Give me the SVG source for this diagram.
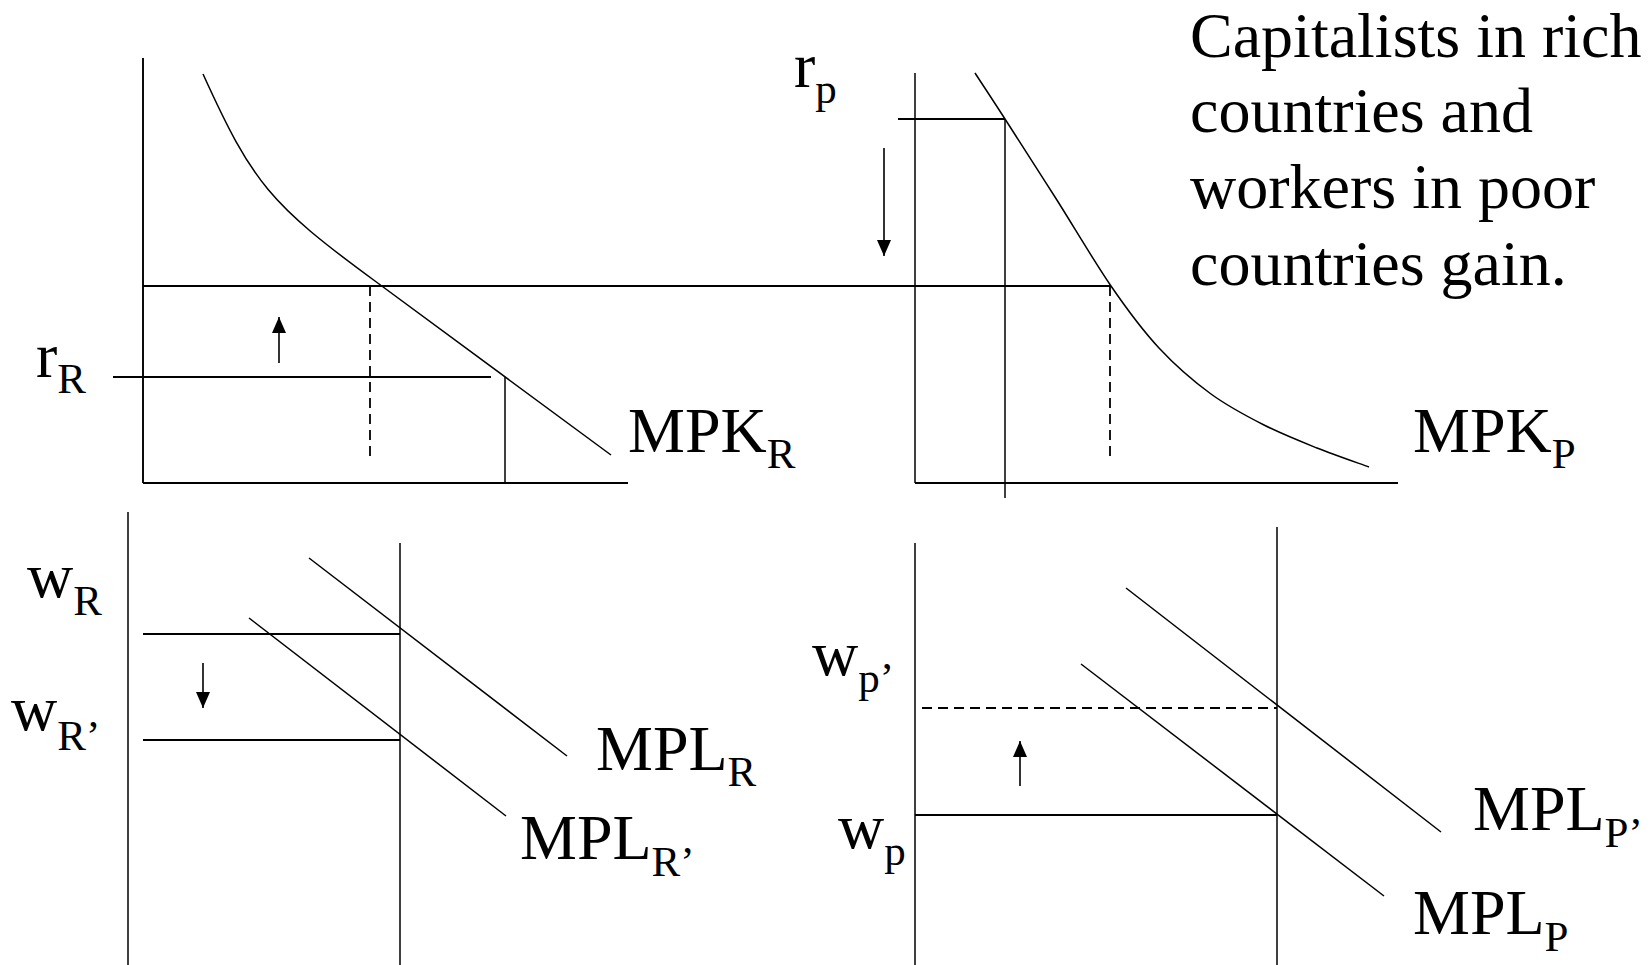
<svg xmlns="http://www.w3.org/2000/svg" width="1652" height="965" viewBox="0 0 1652 965">
<style>
.ln{stroke:#000;stroke-width:1.9;fill:none}
.thin{stroke:#000;stroke-width:1.5;fill:none}
.dash{stroke:#000;stroke-width:1.8;fill:none;stroke-dasharray:10 6}
.arr{stroke:#000;stroke-width:1.6;fill:none;marker-end:url(#ah)}
text{font-family:"Liberation Serif","Times New Roman",serif;fill:#000}
.lbl{font-size:64px}
.sub{font-size:43px}
.para{font-size:64px}
</style>
<defs>
<marker id="ah" markerUnits="userSpaceOnUse" markerWidth="17" markerHeight="14" refX="16" refY="7" orient="auto">
<path d="M0,0 L16,7 L0,14 z" fill="#000"/>
</marker>
</defs>
<rect width="1652" height="965" fill="#fff"/>

<g id="connectors">
<!-- top-left panel -->
<line class="ln" x1="143" y1="58" x2="143" y2="483"/>
<line class="ln" x1="143" y1="483" x2="628" y2="483"/>
<line class="ln" x1="143" y1="286" x2="1110" y2="286"/>
<line class="dash" x1="370" y1="286" x2="370" y2="461"/>
<line class="ln" x1="113" y1="377" x2="491" y2="377"/>
<line class="thin" x1="505" y1="377" x2="505" y2="483"/>
<path class="thin" d="M203,74 C252.6,183.2 269.8,203.9 375,281 L611,455"/>
<line class="arr" x1="279" y1="363" x2="279" y2="317"/>
<!-- top-right panel -->
<line class="thin" x1="915" y1="73" x2="915" y2="483"/>
<line class="ln" x1="915" y1="483" x2="1398" y2="483"/>
<line class="thin" x1="1005" y1="119" x2="1005" y2="498"/>
<line class="ln" x1="898" y1="119" x2="1005" y2="119"/>
<line class="dash" x1="1110" y1="286" x2="1110" y2="461"/>
<path class="thin" d="M975,73 C980,80.7 991.7,98.3 1005,119 C1018.3,139.7 1037.3,169.2 1055,197 C1072.7,224.8 1093.7,260.8 1111,286 C1128.3,311.2 1142.3,330 1159,348 C1175.7,366 1193.5,381.2 1211,394 C1228.5,406.8 1246.3,416 1264,425 C1281.7,434 1299.5,441 1317,448 C1334.5,455 1360.3,463.8 1369,467"/>
<line class="arr" x1="884" y1="148" x2="884" y2="256"/>
<!-- bottom-left panel -->
<line class="thin" x1="128" y1="512" x2="128" y2="965"/>
<line class="thin" x1="400" y1="543" x2="400" y2="965"/>
<line class="ln" x1="143" y1="634" x2="400" y2="634"/>
<line class="ln" x1="143" y1="740" x2="400" y2="740"/>
<line class="thin" x1="309" y1="558" x2="567" y2="756"/>
<line class="thin" x1="249" y1="618" x2="506" y2="816"/>
<line class="arr" x1="203" y1="663" x2="203" y2="708"/>
<!-- bottom-right panel -->
<line class="thin" x1="915" y1="543" x2="915" y2="965"/>
<line class="thin" x1="1277" y1="527" x2="1277" y2="965"/>
<line class="dash" x1="922" y1="708" x2="1277" y2="708"/>
<line class="ln" x1="915" y1="815" x2="1277" y2="815"/>
<line class="thin" x1="1126" y1="588" x2="1441" y2="832"/>
<line class="thin" x1="1081" y1="664" x2="1384" y2="896"/>
<line class="arr" x1="1020" y1="786" x2="1020" y2="741"/>
</g>

<g id="label-rR"><text class="lbl" x="36" y="377">r<tspan class="sub" dy="16">R</tspan></text></g>
<g id="label-rp"><text class="lbl" x="794" y="87">r<tspan class="sub" dy="16">p</tspan></text></g>
<g id="label-MPKR"><text class="lbl" x="628" y="452">MPK<tspan class="sub" dy="16">R</tspan></text></g>
<g id="label-MPKP"><text class="lbl" x="1413" y="452">MPK<tspan class="sub" dy="16">P</tspan></text></g>
<g id="label-wR"><text class="lbl" x="27" y="597">w<tspan class="sub" dy="18">R</tspan></text></g>
<g id="label-wR2"><text class="lbl" x="11" y="730">w<tspan class="sub" dy="20">R’</tspan></text></g>
<g id="label-MPLR"><text class="lbl" x="596" y="770">MPL<tspan class="sub" dy="16">R</tspan></text></g>
<g id="label-MPLR2"><text class="lbl" x="520" y="859">MPL<tspan class="sub" dy="17">R’</tspan></text></g>
<g id="label-wp2"><text class="lbl" x="812" y="675">w<tspan class="sub" dy="17">p’</tspan></text></g>
<g id="label-wp"><text class="lbl" x="838" y="848">w<tspan class="sub" dy="17">p</tspan></text></g>
<g id="label-MPLP2"><text class="lbl" x="1473" y="830">MPL<tspan class="sub" dy="17">P’</tspan></text></g>
<g id="label-MPLP"><text class="lbl" x="1413" y="934">MPL<tspan class="sub" dy="17">P</tspan></text></g>

<g id="note">
<text class="para" x="1190" y="57">Capitalists in rich</text>
<text class="para" x="1190" y="132">countries and</text>
<text class="para" x="1190" y="208">workers in poor</text>
<text class="para" x="1190" y="285">countries gain.</text>
</g>
</svg>
